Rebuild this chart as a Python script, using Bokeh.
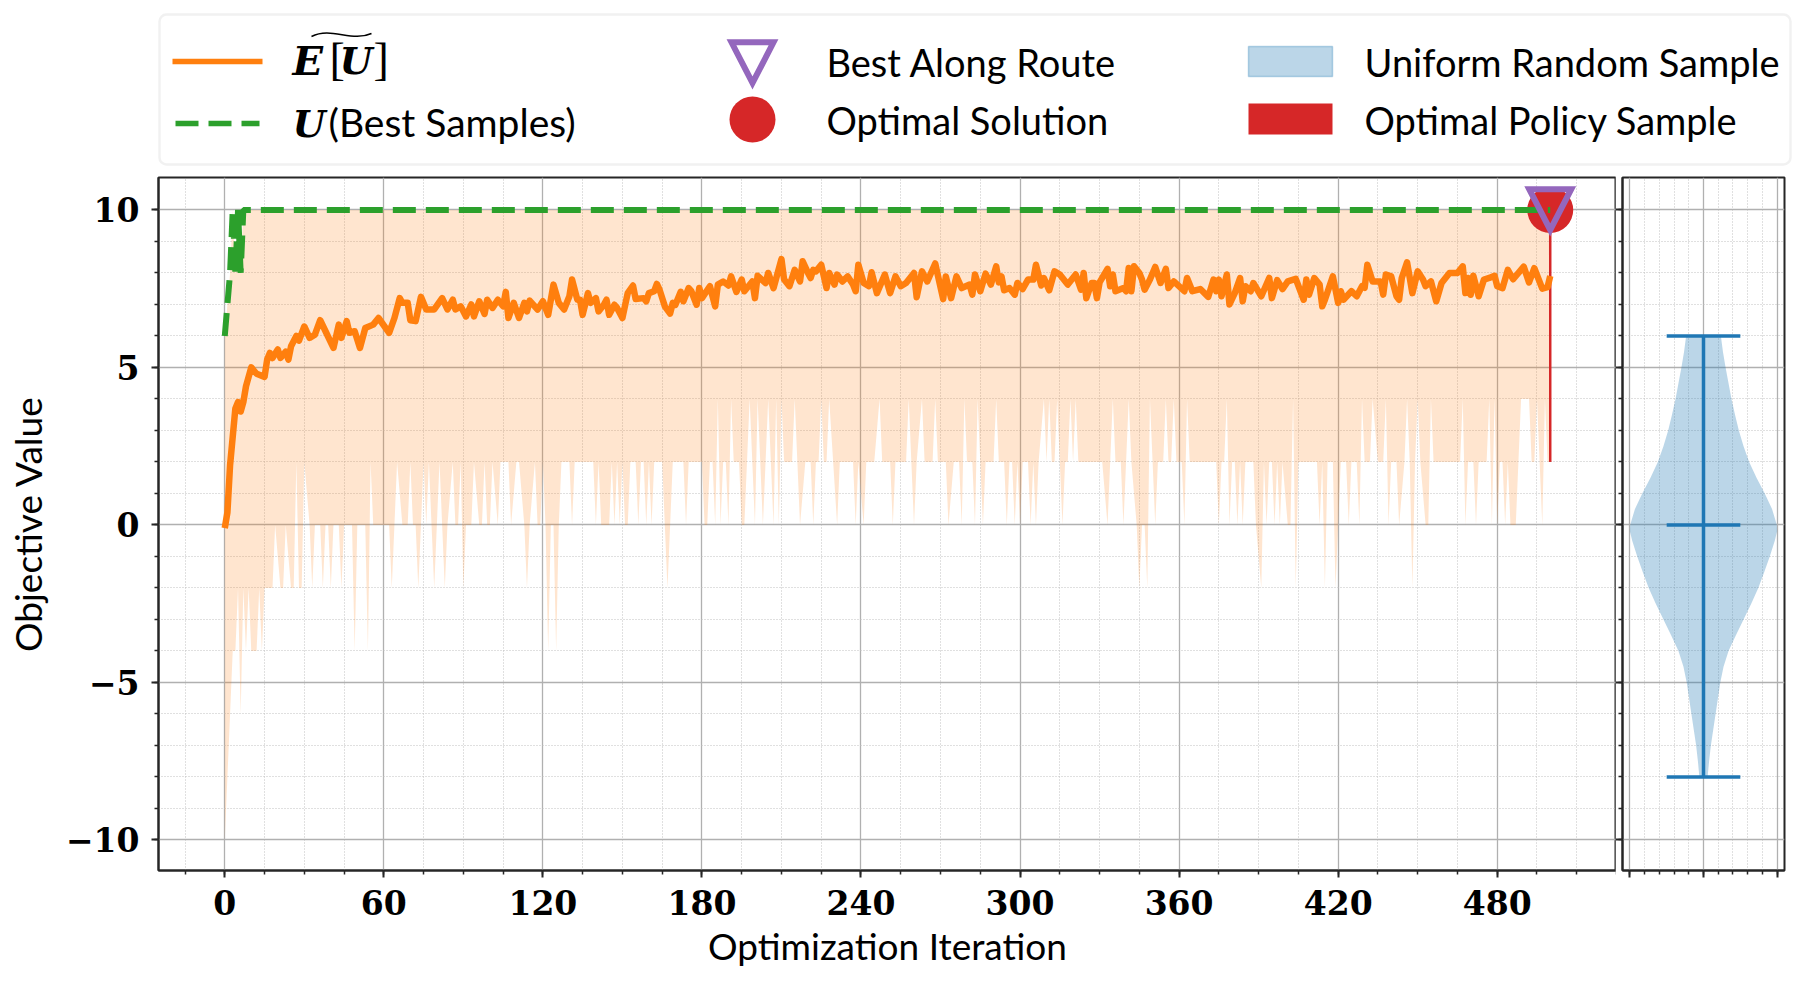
from bokeh.core.properties import value
from bokeh.embed import file_html
from bokeh.layouts import column, row
from bokeh.models import BoxAnnotation, FixedTicker
from bokeh.plotting import figure
from bokeh.resources import INLINE

ORANGE = "#ff7f0e"
GREEN = "#2ca02c"
RED = "#d62728"
PURPLE = "#9467bd"
BLUE = "#1f77b4"
SPINE = "#262626"
SANS = "Lato"
SERIF = "DejaVu Serif"

# running mean of the objective at its turning points
mean_iter = [
    0, 1, 2, 3, 4, 5, 6, 7, 8, 10, 12, 15, 16, 17, 18, 20, 21, 23, 24, 25,
    27, 28, 30, 32, 34, 36, 38, 41, 43, 44, 46, 47, 49, 51, 53, 56, 58, 62, 64, 66,
    67, 69, 70, 72, 74, 76, 79, 82, 84, 86, 87, 89, 91, 93, 94, 96, 98, 99, 101, 103,
    105, 106, 107, 109, 111, 113, 114, 115, 118, 120, 122, 124, 126, 128, 130, 131, 133, 134, 135, 137,
    138, 140, 141, 143, 144, 145, 147, 148, 150, 152, 154, 155, 158, 159, 160, 162, 163, 164, 166, 168,
    169, 170, 172, 173, 175, 176, 178, 179, 180, 183, 185, 186, 188, 190, 191, 193, 195, 196, 199, 200,
    201, 204, 205, 207, 210, 211, 213, 215, 217, 218, 220, 221, 222, 223, 225, 227, 228, 230, 231, 233,
    235, 237, 238, 239, 241, 243, 244, 246, 249, 251, 253, 255, 257, 260, 261, 263, 265, 268, 271, 272,
    274, 276, 278, 281, 282, 283, 285, 287, 289, 291, 292, 293, 294, 296, 298, 299, 301, 303, 305, 306,
    308, 309, 311, 313, 315, 318, 321, 323, 324, 325, 327, 328, 329, 330, 333, 334, 335, 336, 339, 340,
    341, 342, 343, 345, 346, 347, 349, 351, 353, 355, 356, 358, 362, 363, 365, 368, 371, 373, 374, 375,
    376, 378, 379, 381, 383, 384, 385, 387, 388, 391, 394, 395, 397, 399, 401, 404, 407, 408, 409, 411,
    413, 414, 415, 418, 420, 421, 422, 425, 427, 429, 430, 431, 433, 436, 437, 438, 440, 442, 443, 444,
    446, 448, 450, 452, 453, 455, 457, 459, 462, 465, 467, 468, 469, 470, 471, 473, 475, 477, 479, 480,
    482, 484, 486, 490, 492, 494, 497, 499, 500,
]
mean_value = [
    -0.1, 0.4, 1.9, 2.8, 3.7, 3.9, 3.6, 3.9, 4.4, 5.0, 4.8, 4.7, 5.25, 5.46, 5.3, 5.57, 5.3, 5.5, 5.25, 5.67,
    6.0, 5.85, 6.3, 5.94, 6.04, 6.5, 6.15, 5.62, 6.36, 5.94, 6.47, 6.1, 6.15, 5.62, 6.25, 6.36, 6.57, 6.1, 6.57, 7.2,
    7.05, 7.05, 6.5, 6.47, 7.24, 6.84, 6.84, 7.2, 6.84, 7.15, 6.84, 6.94, 6.62, 7.0, 6.62, 7.1, 6.7, 7.15, 6.89, 7.15,
    6.94, 7.4, 6.57, 7.05, 6.57, 7.05, 6.78, 7.12, 6.84, 7.1, 6.67, 7.63, 7.05, 6.84, 7.26, 7.79, 7.15, 7.15, 6.67, 7.36,
    7.05, 7.2, 6.78, 6.99, 7.15, 6.67, 6.99, 6.89, 6.57, 7.36, 7.6, 7.17, 7.2, 7.1, 7.36, 7.42, 7.65, 7.47, 6.94, 6.71,
    7.05, 6.99, 7.4, 7.1, 7.52, 7.42, 6.99, 7.52, 7.2, 7.58, 6.94, 7.63, 7.73, 7.6, 7.89, 7.4, 7.79, 7.42, 7.73, 7.2,
    7.91, 7.68, 8.0, 7.52, 8.44, 7.79, 7.58, 8.1, 7.73, 8.37, 8.0, 7.84, 8.1, 8.05, 8.26, 7.52, 8.0, 7.63, 7.95, 7.73,
    7.89, 7.63, 7.42, 8.26, 7.68, 7.58, 8.02, 7.36, 7.95, 7.36, 7.89, 7.58, 7.68, 8.0, 7.23, 8.05, 7.73, 8.3, 7.17, 7.89,
    7.2, 7.89, 7.52, 7.63, 7.31, 7.95, 7.42, 7.98, 7.63, 8.21, 7.7, 7.89, 7.45, 7.52, 7.31, 7.68, 7.49, 7.79, 7.79, 8.26,
    7.6, 7.84, 7.45, 8.05, 7.95, 7.63, 7.95, 7.47, 8.0, 7.2, 7.68, 7.68, 7.2, 7.7, 8.13, 7.58, 7.95, 7.42, 7.52, 7.42,
    8.16, 7.42, 8.21, 8.0, 7.79, 7.47, 7.79, 8.19, 7.68, 8.13, 7.52, 7.73, 7.42, 7.84, 7.42, 7.49, 7.24, 7.79, 7.42, 7.79,
    7.26, 7.95, 7.0, 7.36, 7.84, 7.1, 7.58, 7.42, 7.68, 7.26, 7.84, 7.2, 7.77, 7.49, 7.73, 7.81, 7.15, 7.79, 7.31, 7.84,
    7.63, 6.94, 7.15, 7.89, 7.05, 7.42, 7.15, 7.42, 7.26, 7.58, 7.53, 8.26, 7.73, 7.73, 7.31, 7.95, 7.89, 7.26, 7.15, 7.84,
    8.34, 7.36, 8.05, 7.79, 7.58, 7.73, 7.1, 7.68, 8.0, 8.0, 8.21, 7.36, 7.84, 7.31, 7.91, 7.26, 7.79, 7.84, 7.91, 7.58,
    7.52, 8.1, 7.8, 8.2, 7.7, 8.15, 7.5, 7.55, 7.9,
]

# best sample per iteration (top of the shaded band)
best_iter = [0, 2, 3, 4, 5, 6, 7, 500]
best_value = [6, 8, 10, 8, 10, 8, 10, 10]

# worst sample per iteration (bottom of the shaded band), only where it changes
worst_iter = [
    0, 3, 4, 5, 6, 7, 8, 9, 10, 12, 13, 14, 15, 18, 19, 21, 22, 23, 25, 26,
    27, 28, 29, 30, 32, 33, 34, 36, 37, 38, 39, 40, 41, 43, 44, 45, 48, 49, 50, 53,
    54, 55, 56, 62, 63, 64, 65, 67, 69, 70, 71, 72, 73, 74, 75, 76, 77, 78, 79, 80,
    81, 82, 83, 84, 86, 87, 88, 89, 90, 91, 93, 94, 96, 97, 98, 99, 100, 101, 103, 104,
    107, 108, 110, 111, 113, 114, 115, 117, 118, 119, 120, 121, 122, 123, 124, 125, 126, 127, 130, 131,
    132, 139, 140, 141, 142, 145, 146, 147, 148, 149, 150, 151, 152, 153, 155, 156, 157, 158, 159, 160,
    161, 162, 165, 166, 167, 168, 169, 173, 174, 175, 180, 181, 182, 183, 184, 185, 186, 187, 188, 189,
    190, 191, 192, 194, 195, 196, 198, 200, 201, 203, 205, 207, 208, 209, 210, 211, 214, 215, 216, 217,
    219, 221, 222, 223, 224, 225, 226, 227, 228, 231, 232, 237, 238, 239, 241, 242, 245, 247, 248, 251,
    252, 253, 257, 258, 259, 260, 261, 263, 264, 267, 268, 269, 272, 273, 275, 277, 278, 279, 280, 282,
    283, 284, 286, 287, 290, 291, 292, 294, 295, 296, 297, 298, 299, 300, 301, 303, 304, 305, 306, 307,
    309, 310, 311, 312, 313, 314, 315, 316, 317, 318, 319, 320, 321, 322, 329, 331, 333, 334, 335, 336,
    338, 339, 340, 341, 342, 344, 345, 346, 347, 348, 349, 350, 351, 352, 354, 355, 356, 357, 358, 359,
    361, 362, 363, 364, 374, 375, 376, 377, 378, 379, 380, 381, 382, 383, 384, 385, 388, 389, 391, 392,
    393, 394, 395, 396, 397, 398, 399, 401, 402, 403, 404, 405, 412, 413, 414, 415, 416, 418, 419, 421,
    423, 424, 425, 427, 428, 429, 430, 432, 433, 435, 437, 438, 439, 440, 442, 443, 445, 446, 447, 448,
    449, 450, 451, 453, 454, 455, 456, 466, 467, 468, 469, 471, 472, 473, 476, 477, 478, 479, 480, 481,
    482, 483, 484, 485, 487, 488, 489, 492, 493, 494, 495, 497, 498, 499, 500,
]
worst_value = [
    -10, -4, -4, -2, -6, -2, -4, -2, -4, -4, -2, -4, -2, -2, 0, -2, -2, 0, -2, -2,
    2, -2, -2, 2, 0, -2, 0, 0, -2, 0, 0, -2, 0, 0, -2, 0, 0, -4, 0, 0,
    -4, 2, 0, 0, -2, 0, 2, 0, 0, 2, 0, 0, -2, 0, 2, 0, 2, 0, -2, 0,
    2, 0, -2, 0, 2, 0, 0, 2, -2, 0, 0, 2, 0, 0, 2, 0, 0, 2, 0, 2,
    2, 0, 2, 2, 0, -2, 0, 2, 0, 0, 2, 0, -4, 0, 0, -4, 0, 2, 2, 0,
    2, 2, 0, 2, 0, 0, 2, 0, 2, 0, 2, 0, 0, 2, 2, 0, 2, 2, 0, 2,
    0, 2, 2, 0, -2, 0, 2, 2, 0, 2, 2, 0, 0, 2, 2, 0, 4, 0, 2, 2,
    0, 4, 2, 2, 0, 0, 4, 0, 4, 0, 4, 0, 4, 0, 4, 2, 2, 4, 2, 0,
    2, 2, 0, 2, 2, 4, 2, 2, 4, 0, 2, 2, 0, 2, 0, 2, 2, 4, 2, 2,
    0, 2, 2, 4, 2, 0, 2, 4, 2, 2, 4, 2, 2, 0, 2, 2, 0, 4, 2, 2,
    0, 4, 0, 2, 2, 4, 2, 2, 0, 2, 2, 0, 2, 0, 2, 2, 0, 2, 0, 2,
    4, 2, 4, 2, 2, 4, 2, 0, 2, 2, 4, 2, 4, 2, 2, 2, 0, 2, 4, 2,
    2, 0, 2, 4, 2, 0, -2, 0, 0, -2, 4, 2, 0, 2, 2, 4, 2, 2, 4, 2,
    2, 0, 4, 2, 2, 0, 2, 2, 4, 0, 2, 2, 0, 2, 0, 2, 2, 0, -2, 2,
    0, 2, 2, 0, 2, 0, 2, 0, 0, 4, -2, 2, 2, 0, 2, -2, 2, 2, -2, 2,
    2, 0, 2, 2, 0, 4, 2, 2, 4, 2, 2, 4, 0, 2, 2, 0, 2, 4, 2, -2,
    2, 4, 2, 0, 0, 4, 2, 2, 4, 0, 2, 2, 0, 2, 2, 4, 0, 4, 0, 2,
    2, 0, 2, 0, 0, 2, 4, 4, 2, 2, 4, 0, 4, 2, 2,
]

# optimal solution and optimal policy sample at the last iteration
last_iter = [500]
optimal_value = [10]
policy_low = [2]
policy_high = [10]

# violin of the uniform random sample: half width against objective value
violin_pos = 1
violin_value = [6, 5.5, 5, 4.5, 4, 3.5, 3, 2.5, 2, 1.5, 1, 0.5, 0, -0.2, -0.5, -1, -1.5, -2,
                -2.5, -3, -3.5, -4, -4.5, -5, -5.5, -6, -6.5, -7, -7.5, -8]
violin_half = [0.059, 0.066, 0.075, 0.085, 0.095, 0.107, 0.120, 0.136, 0.155, 0.18, 0.208, 0.233, 0.249, 0.25,
               0.242, 0.225, 0.206, 0.186, 0.162, 0.136, 0.11, 0.085, 0.068, 0.057, 0.049, 0.041, 0.033, 0.025,
               0.019, 0.014]
violin_stats = [-8, 0, 6]

x_major = [0, 60, 120, 180, 240, 300, 360, 420, 480]
y_major = [-10, -5, 0, 5, 10]
y_labels = {-10: "\u221210", -5: "\u22125", 0: "0", 5: "5", 10: "10"}
v_major = [0.75, 1, 1.25]

FRAME_H = 693
MAIN_W = 1458
X_RANGE = (-25, 525)
Y_RANGE = (-10.97, 11.03)
x_scale = MAIN_W / (X_RANGE[1] - X_RANGE[0])
y_scale = FRAME_H / (Y_RANGE[1] - Y_RANGE[0])

# centre line of the hollow triangle marker, pixels from its anchor
TRI_HALF_W = 21
TRI_TOP = 20.7
TRI_APEX = 20


def style_axes(p):
    p.outline_line_color = SPINE
    p.outline_line_width = 2
    for ax in p.axis:
        ax.axis_line_color = SPINE
        ax.axis_line_width = 2
        ax.major_tick_line_color = SPINE
        ax.major_tick_line_width = 2
        ax.major_tick_out = 7
        ax.major_tick_in = 0
        ax.minor_tick_line_color = SPINE
        ax.minor_tick_line_width = 1.5
        ax.minor_tick_out = 4
        ax.minor_tick_in = 0
        ax.major_label_text_color = "black"
        ax.major_label_text_font = SERIF
        ax.major_label_text_font_style = "bold"
        ax.major_label_text_font_size = "33px"
    for g in p.grid:
        g.grid_line_color = "#b0b0b0"
        g.grid_line_width = 1.3
        g.minor_grid_line_color = "#c0c0c0"
        g.minor_grid_line_width = 1
        g.minor_grid_line_dash = "1 2"


# main panel
p = figure(output_backend="svg", toolbar_location=None, x_range=X_RANGE, y_range=Y_RANGE,
           frame_width=MAIN_W, frame_height=FRAME_H, min_border_left=158, min_border_right=0,
           min_border_top=5, min_border_bottom=104)
p.xaxis.ticker = FixedTicker(ticks=x_major, minor_ticks=list(range(-15, 526, 15)))
p.yaxis.ticker = FixedTicker(ticks=y_major, minor_ticks=list(range(-10, 11)))
p.yaxis.major_label_overrides = y_labels
style_axes(p)
p.xaxis.major_label_standoff = 12
p.yaxis.major_label_standoff = 12
p.xaxis.axis_label = "Optimization Iteration"
p.yaxis.axis_label = "Objective Value"
for ax in p.axis:
    ax.axis_label_text_font = SANS
    ax.axis_label_text_font_size = "37px"
    ax.axis_label_text_font_style = "normal"
    ax.axis_label_text_color = "black"
p.xaxis.axis_label_standoff = 5
p.yaxis.axis_label_standoff = 13

p.patch(best_iter + worst_iter[::-1], best_value + worst_value[::-1], fill_color=ORANGE, fill_alpha=0.2,
        line_color=None)
p.segment(last_iter, policy_low, last_iter, policy_high, line_color=RED, line_width=2.5)
p.scatter(last_iter, optimal_value, size=46, fill_color=RED, line_color=None)
p.line(best_iter, best_value, line_color=GREEN, line_width=6, line_dash="23 10")
p.line(mean_iter, mean_value, line_color=ORANGE, line_width=6.5, line_join="round")
p.patch([last_iter[0] - TRI_HALF_W / x_scale, last_iter[0] + TRI_HALF_W / x_scale, last_iter[0]],
        [optimal_value[0] + TRI_TOP / y_scale, optimal_value[0] + TRI_TOP / y_scale,
         optimal_value[0] - TRI_APEX / y_scale],
        fill_color=None, line_color=PURPLE, line_width=6, line_join="miter")

# violin panel, sharing the y range
v = figure(output_backend="svg", toolbar_location=None, x_range=(0.725, 1.275), y_range=p.y_range,
           frame_width=162, frame_height=FRAME_H, min_border_left=7, min_border_right=12,
           min_border_top=5, min_border_bottom=104, margin=(0, 0, 0, -1))
v.xaxis.ticker = FixedTicker(ticks=v_major, minor_ticks=[0.75 + 0.05 * i for i in range(11)])
v.yaxis.ticker = FixedTicker(ticks=y_major, minor_ticks=list(range(-10, 11)))
style_axes(v)
v.xaxis.major_label_overrides = {t: "" for t in v_major}
v.yaxis.major_label_overrides = {t: "" for t in y_major}
for ax in v.axis:
    ax.major_label_text_font_size = "1px"
    ax.major_label_standoff = 0

v.patch([violin_pos - h for h in violin_half] + [violin_pos + h for h in violin_half[::-1]],
        violin_value + violin_value[::-1], fill_color=BLUE, fill_alpha=0.3, line_color=None)
v.segment([violin_pos], [violin_stats[0]], [violin_pos], [violin_stats[-1]], line_color=BLUE, line_width=3.5)
v.segment([violin_pos - 0.125] * 3, violin_stats, [violin_pos + 0.125] * 3, violin_stats, line_color=BLUE,
          line_width=3.5)

# legend strip, its ranges are page pixels
leg = figure(output_backend="svg", toolbar_location=None, x_range=(0, 1800), y_range=(172, 0),
             frame_width=1800, frame_height=172, min_border=0, outline_line_color=None)
leg.axis.visible = False
leg.grid.visible = False
leg.add_layout(BoxAnnotation(left=159, right=1790, top=14, bottom=164, fill_color="white", fill_alpha=1,
                             line_color="#d0d0d0", line_width=2.5, border_radius=7, level="underlay"))


def leg_text(x, y, s, font=SANS, size=38, style="normal"):
    leg.text([x], [y], text=[s], text_font=value(font), text_font_size=f"{size}px", text_font_style=style,
             text_color="black", text_baseline="alphabetic", text_align="left")


leg.line([172, 262], [61, 61], line_color=ORANGE, line_width=5.5)
leg.line([175, 259], [123, 123], line_color=GREEN, line_width=5.5, line_dash="23 10")

leg_text(292, 60, "E", SERIF, 40, "bold italic")
leg_text(329, 59, "[", "Liberation Serif", 46)
leg_text(339, 60, "U", SERIF, 38, "bold italic")
leg_text(373, 59, "]", "Liberation Serif", 46)
leg.bezier([311], [36], [371], [33], [331], [26], [351], [42], line_color="black", line_width=1.5)

leg_text(292, 123, "U", SERIF, 38, "bold italic")
leg_text(328, 121, "(Best Samples)", size=39)

leg.patch([752 - TRI_HALF_W, 752 + TRI_HALF_W, 752], [62.5 - TRI_TOP, 62.5 - TRI_TOP, 62.5 + TRI_APEX],
          fill_color=None, line_color=PURPLE, line_width=6, line_join="miter")
leg.scatter([752], [119], size=46, fill_color=RED, line_color=None)
leg_text(826, 61, "Best Along Route")
leg_text(826, 119, "Optimal Solution")

leg.quad(left=[1248], right=[1332], top=[46], bottom=[76], fill_color=BLUE, fill_alpha=0.3, line_color=BLUE,
         line_alpha=0.3, line_width=1.5)
leg.quad(left=[1248], right=[1332], top=[103], bottom=[134], fill_color=RED, line_color=None)
leg_text(1364, 61, "Uniform Random Sample")
leg_text(1364, 119, "Optimal Policy Sample")

page = column(leg, row(p, v, spacing=0), spacing=0)
open("out.html", "w").write(file_html(page, INLINE))
